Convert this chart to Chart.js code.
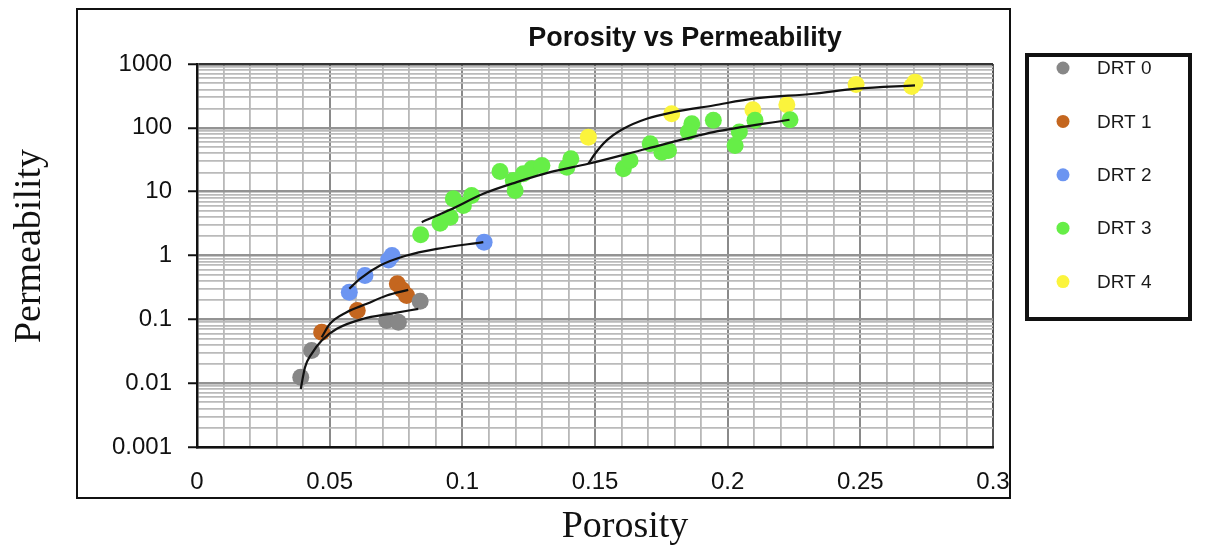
<!DOCTYPE html>
<html>
<head>
<meta charset="utf-8">
<title>Porosity vs Permeability</title>
<script src="https://cdn.jsdelivr.net/npm/chart.js@4"></script>
<style>
  body { margin: 0; background: #ffffff; }
  #porosity-chart { display: block; }
</style>
</head>
<body>
<canvas id="porosity-chart" width="1208" height="548"></canvas>
<script>
// values (porosity as fraction, permeability on a log axis)
const seriesNames = ['DRT 0', 'DRT 1', 'DRT 2', 'DRT 3', 'DRT 4'];
const seriesColors = ['#878787', '#c4661f', '#6c95f1', '#66ee47', '#fbf43c'];

const drt0Porosity = [0.0391, 0.0432, 0.0715, 0.0759, 0.0841];
const drt0Perm = [0.0124, 0.0324, 0.096, 0.090, 0.192];

const drt1Porosity = [0.0470, 0.0604, 0.0755, 0.0773, 0.0790];
const drt1Perm = [0.063, 0.137, 0.36, 0.29, 0.236];

const drt2Porosity = [0.0574, 0.0633, 0.0722, 0.0735, 0.1082];
const drt2Perm = [0.266, 0.486, 0.85, 1.0, 1.62];

const drt3Porosity = [0.0843, 0.0916, 0.0954, 0.0966, 0.1004, 0.1035, 0.1142, 0.1199, 0.1192,
  0.1230, 0.1262, 0.1300, 0.1394, 0.1409, 0.1607, 0.1632, 0.1708, 0.1752, 0.1777, 0.1865,
  0.1852, 0.1946, 0.2028, 0.2044, 0.2103, 0.2235];
const drt3Perm = [2.11, 3.21, 3.98, 7.74, 6.08, 8.72, 20.7, 10.4, 15.0,
  19.1, 22.9, 25.8, 24.2, 32.8, 22.9, 30.8, 56.3, 41.6, 44.2, 116,
  85.7, 131, 53, 85.7, 131, 134];

const drt4Porosity = [0.1475, 0.1789, 0.2095, 0.2223, 0.2484, 0.2694, 0.2706];
const drt4Perm = [71.5, 166, 192, 230, 479, 446, 520];

// black trend curves, sampled along the drawn lines
const trend0Porosity = [0.0391, 0.0407, 0.0432, 0.0470, 0.0527, 0.0627, 0.0727, 0.0834];
const trend0Perm = [0.0081, 0.0177, 0.0288, 0.0466, 0.071, 0.102, 0.122, 0.146];

const trend1Porosity = [0.0470, 0.0501, 0.0564, 0.0640, 0.0715, 0.0796];
const trend1Perm = [0.0524, 0.085, 0.129, 0.175, 0.236, 0.290];

const trend2Porosity = [0.0574, 0.0614, 0.0690, 0.0790, 0.0904, 0.1079];
const trend2Perm = [0.301, 0.431, 0.697, 1.0, 1.27, 1.62];

const trend3Porosity = [0.0847, 0.0954, 0.1079, 0.1205, 0.1331, 0.1475, 0.1695, 0.1946, 0.2233];
const trend3Perm = [3.33, 5.20, 9.27, 14.1, 20.2, 27.4, 47.0, 85.7, 134];

const trend4Porosity = [0.1475, 0.1500, 0.1544, 0.1607, 0.1695, 0.1795, 0.1946, 0.2097, 0.2323, 0.2487, 0.2706];
const trend4Perm = [27.4, 39.3, 63.5, 96.8, 139, 176, 224, 286, 342, 410, 462];

const xTickLabels = ['0', '0.05', '0.1', '0.15', '0.2', '0.25', '0.3'];
const yTickLabels = ['0.001', '0.01', '0.1', '1', '10', '100', '1000'];

const chartTitle = 'Porosity vs Permeability';
const xTitle = 'Porosity';
const yTitle = 'Permeability';

function toPoints(xs, ys) {
  return xs.map((x, i) => ({x: x, y: ys[i]}));
}

const scatterSets = [
  [drt0Porosity, drt0Perm],
  [drt1Porosity, drt1Perm],
  [drt2Porosity, drt2Perm],
  [drt3Porosity, drt3Perm],
  [drt4Porosity, drt4Perm],
].map((pair, i) => ({
  type: 'scatter',
  label: seriesNames[i],
  data: toPoints(pair[0], pair[1]),
  backgroundColor: seriesColors[i],
  borderWidth: 0,
  pointRadius: 8.5,
  pointHoverRadius: 8.5,
  order: 1,
}));

const trendSets = [
  [trend0Porosity, trend0Perm],
  [trend1Porosity, trend1Perm],
  [trend2Porosity, trend2Perm],
  [trend3Porosity, trend3Perm],
  [trend4Porosity, trend4Perm],
].map((pair) => ({
  type: 'line',
  label: '',
  isTrend: true,
  data: toPoints(pair[0], pair[1]),
  borderColor: '#111111',
  borderWidth: 2.2,
  pointRadius: 0,
  fill: false,
  tension: 0.4,
  cubicInterpolationMode: 'monotone',
  order: 0,
}));

// white page, outer frame, title, axis titles and the boxed legend
const decorations = {
  id: 'decorations',
  beforeDraw: (chart) => {
    const {ctx} = chart;
    ctx.save();
    ctx.fillStyle = '#ffffff';
    ctx.fillRect(0, 0, chart.width, chart.height);
    ctx.restore();
  },
  afterDraw: (chart) => {
    const {ctx} = chart;
    ctx.save();

    ctx.strokeStyle = '#111111';
    ctx.lineWidth = 2;
    ctx.strokeRect(77, 9, 933, 489);

    ctx.fillStyle = '#111111';
    ctx.font = 'bold 27px "Liberation Sans", Arial, sans-serif';
    ctx.textAlign = 'center';
    ctx.textBaseline = 'middle';
    ctx.fillText(chartTitle, 685, 39);

    ctx.font = '38px "Liberation Serif", "Times New Roman", serif';
    ctx.fillText(xTitle, 625, 527);
    ctx.save();
    ctx.translate(30, 246);
    ctx.rotate(-Math.PI / 2);
    ctx.fillText(yTitle, 0, 0);
    ctx.restore();

    ctx.lineWidth = 4;
    ctx.strokeRect(1027, 55, 163, 264);
    ctx.font = '19px "Liberation Sans", Arial, sans-serif';
    ctx.textAlign = 'left';
    chart.data.datasets.filter(d => !d.isTrend).forEach((d, i) => {
      const rowY = 68 + i * 53.4;
      ctx.beginPath();
      ctx.fillStyle = d.backgroundColor;
      ctx.arc(1063, rowY, 6.5, 0, Math.PI * 2);
      ctx.fill();
      ctx.fillStyle = '#1a1a1a';
      ctx.fillText(d.label, 1097, rowY + 1);
    });
    ctx.restore();
  }
};

const tickFont = {family: '"Liberation Sans", Arial, sans-serif', size: 24};

new Chart(document.getElementById('porosity-chart'), {
  type: 'scatter',
  data: {
    datasets: [...trendSets, ...scatterSets],
  },
  options: {
    responsive: false,
    animation: false,
    devicePixelRatio: 1,
    layout: {
      padding: {left: 77, right: 215, top: 64, bottom: 51},
    },
    plugins: {
      legend: {display: false},
      title: {display: false},
      tooltip: {enabled: false},
    },
    scales: {
      x: {
        type: 'linear',
        min: 0,
        max: 0.3,
        afterFit: (scale) => { scale.height = 50; },
        afterBuildTicks: (scale) => {
          const ticks = [];
          for (let i = 0; i <= 30; i++) ticks.push({value: i / 100});
          scale.ticks = ticks;
        },
        ticks: {
          autoSkip: false,
          maxRotation: 0,
          padding: 12,
          color: '#111111',
          font: tickFont,
          callback: (value, index) => index % 5 === 0 ? xTickLabels[index / 5] : '',
        },
        grid: {
          color: (c) => c.index === 30 ? '#555555' : (c.index % 5 === 0 ? '#8a8a8a' : '#b8b8b8'),
          lineWidth: (c) => c.index % 5 === 0 ? 2 : 1.8,
          tickLength: 9,
          tickColor: 'transparent',
        },
        border: {color: '#111111', width: 2.5},
      },
      y: {
        type: 'logarithmic',
        min: 0.001,
        max: 1000,
        afterFit: (scale) => { scale.width = 120; },
        afterBuildTicks: (scale) => {
          const ticks = [];
          for (let e = -3; e < 3; e++) {
            for (let m = 1; m <= 9; m++) ticks.push({value: m * Math.pow(10, e)});
          }
          ticks.push({value: 1000});
          scale.ticks = ticks;
        },
        ticks: {
          autoSkip: false,
          padding: 16,
          color: '#111111',
          font: tickFont,
          callback: (value, index) => index % 9 === 0 ? yTickLabels[index / 9] : '',
        },
        grid: {
          color: (c) => c.index === 54 ? '#333333' : (c.index % 9 === 0 ? '#939393' : '#bababa'),
          lineWidth: (c) => c.index % 9 === 0 ? 2.5 : 1.8,
          tickLength: 9,
          tickWidth: 2,
          tickColor: (c) => c.index % 9 === 0 ? '#111111' : 'transparent',
        },
        border: {color: '#111111', width: 2.5},
      },
    },
  },
  plugins: [decorations],
});
</script>
</body>
</html>
